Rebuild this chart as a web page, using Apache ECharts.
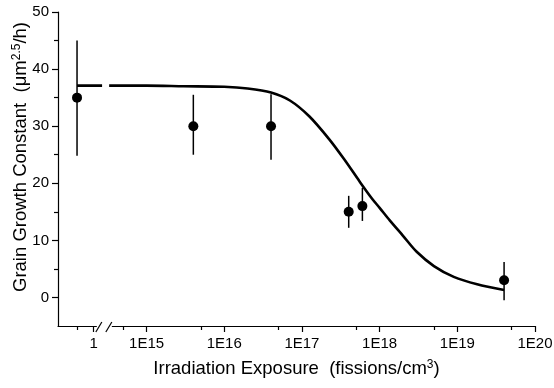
<!DOCTYPE html>
<html>
<head>
<meta charset="utf-8">
<script src="https://cdn.jsdelivr.net/npm/echarts@6/dist/echarts.min.js"></script>
<style>
  html, body { margin: 0; padding: 0; background: #fff; }
  #chart { width: 554px; height: 388px; }
</style>
</head>
<body>
<div id="chart"></div>
<script>
// measured points (fissions/cm3; 0.5 sits on the stub left of the axis break)
const exposure = [0.5, 4e15, 4e16, 4e17, 6e17, 4e19];
const growth = [35, 30, 30, 15, 16, 3];
const errLow = [24.8, 25, 24.1, 12.2, 13.4, -0.5];
const errHigh = [45, 35.5, 35.6, 17.8, 19.2, 6.2];

// fitted curve (null = gap at the break)
const fitExposure = [0.5, 1.25, null, 3.3e14, 1e15, 3e15, 1e16, 2e16, 4e16, 7e16,
  1.25e17, 2.25e17, 3.5e17, 5.6e17, 8e17, 1e18, 1.35e18, 2e18, 3e18, 5e18,
  9e18, 1.8e19, 4e19];
const fitGrowth = [37.1, 37.1, null, 37.1, 37.1, 37.0, 36.9, 36.6, 35.9, 34.5,
  31.7, 27.7, 24.2, 20.2, 17.3, 15.7, 13.5, 10.8, 8.0, 5.5,
  3.6, 2.3, 1.3];

const xMajorTicks = [1, 1e15, 1e16, 1e17, 1e18, 1e19, 1e20];
const xMinorTicks = [0.5, 5e14, 5e15, 5e16, 5e17, 5e18, 5e19];
const yMajorTicks = [0, 10, 20, 30, 40, 50];
const yMinorTicks = [5, 15, 25, 35, 45];

// axis runs in log10 units; the stub before the break is linear
const stubOne = 14.32;
const stubScale = 0.43;
const breakPos = 14.45;
function toAxis(x) {
  return x >= 1e10 ? Math.log10(x) : stubOne - (1 - x) * stubScale;
}
function tickLabel(v) {
  return v < breakPos ? '1' : '1E' + Math.round(v);
}

const font = 'Liberation Sans, Arial, sans-serif';
const chart = echarts.init(document.getElementById('chart'));

const supStyle = { fontSize: 12, verticalAlign: 'top', fontFamily: font, color: '#000', padding: [0, 0, 7, 0] };
const tickLine = { color: '#000', width: 1.2 };

const xBase = {
  type: 'value',
  min: 13.86,
  max: 20,
  splitLine: { show: false },
  position: 'bottom',
};
const yBase = {
  type: 'value',
  min: -5,
  max: 50,
  splitLine: { show: false },
  position: 'left',
};

chart.setOption({
  animation: false,
  grid: { left: 58, right: 19, top: 12, bottom: 62, outerBoundsMode: 'none' },
  xAxis: [
    Object.assign({}, xBase, {
      name: 'Irradiation Exposure  (fissions/cm{sup|3})',
      nameLocation: 'middle',
      nameGap: 33,
      nameMoveOverlap: false,
      nameTextStyle: { color: '#000', fontFamily: font, fontSize: 18.5, rich: { sup: supStyle } },
      axisLine: { onZero: false, lineStyle: tickLine },
      axisTick: { customValues: xMajorTicks.map(toAxis), length: 6, lineStyle: tickLine },
      axisLabel: {
        customValues: xMajorTicks.map(toAxis),
        formatter: tickLabel,
        color: '#000', fontFamily: font, fontSize: 15, margin: 10,
      },
    }),
    Object.assign({}, xBase, {
      axisLine: { show: false, onZero: false },
      axisTick: { customValues: xMinorTicks.map(toAxis), length: 4, lineStyle: tickLine },
      axisLabel: { show: false },
    }),
  ],
  yAxis: [
    Object.assign({}, yBase, {
      name: 'Grain Growth Constant  (μm{sup|2.5}/h)',
      nameLocation: 'middle',
      nameRotate: 90,
      nameGap: 28,
      nameMoveOverlap: false,
      nameTextStyle: {
        color: '#000', fontFamily: font, fontSize: 18.5, padding: [0, 0, 0, 24],
        rich: { sup: supStyle },
      },
      axisLine: { show: true, onZero: false, lineStyle: tickLine },
      axisTick: { show: true, customValues: yMajorTicks, length: 6, lineStyle: tickLine },
      axisLabel: { customValues: yMajorTicks, color: '#000', fontFamily: font, fontSize: 15, margin: 9 },
    }),
    Object.assign({}, yBase, {
      axisLine: { show: false, onZero: false },
      axisTick: { show: true, customValues: yMinorTicks, length: 4, lineStyle: tickLine },
      axisLabel: { show: false },
    }),
  ],
  series: [
    {
      type: 'line',
      data: fitExposure.map((x, i) => (x === null ? [null, null] : [toAxis(x), fitGrowth[i]])),
      connectNulls: false,
      smooth: 0.3,
      showSymbol: false,
      lineStyle: { color: '#000', width: 2.6 },
      z: 3,
    },
    {
      type: 'custom',
      data: exposure.map((x, i) => [toAxis(x), errLow[i], errHigh[i]]),
      encode: { x: 0, y: [1, 2] },
      renderItem(params, api) {
        const lo = api.coord([api.value(0), api.value(1)]);
        const hi = api.coord([api.value(0), api.value(2)]);
        return {
          type: 'line',
          shape: { x1: lo[0], y1: lo[1], x2: hi[0], y2: hi[1] },
          style: { stroke: '#000', lineWidth: 1.5 },
        };
      },
      z: 4,
    },
    {
      type: 'scatter',
      data: exposure.map((x, i) => [toAxis(x), growth[i]]),
      symbol: 'circle',
      symbolSize: 10,
      itemStyle: { color: '#000', opacity: 1 },
      z: 5,
    },
  ],
});

// axis break marks
const bx = chart.convertToPixel({ xAxisIndex: 0 }, breakPos);
const by = chart.convertToPixel({ yAxisIndex: 0 }, -5);
chart.setOption({
  graphic: [
    { type: 'rect', shape: { x: bx - 7, y: by - 2, width: 15, height: 4 }, style: { fill: '#fff' }, z: 100 },
    { type: 'line', shape: { x1: bx - 8, y1: by + 6, x2: bx - 2, y2: by - 4 }, style: { stroke: '#000', lineWidth: 1.2 }, z: 101 },
    { type: 'line', shape: { x1: bx + 2, y1: by + 6, x2: bx + 8, y2: by - 4 }, style: { stroke: '#000', lineWidth: 1.2 }, z: 101 },
  ],
});
</script>
</body>
</html>
